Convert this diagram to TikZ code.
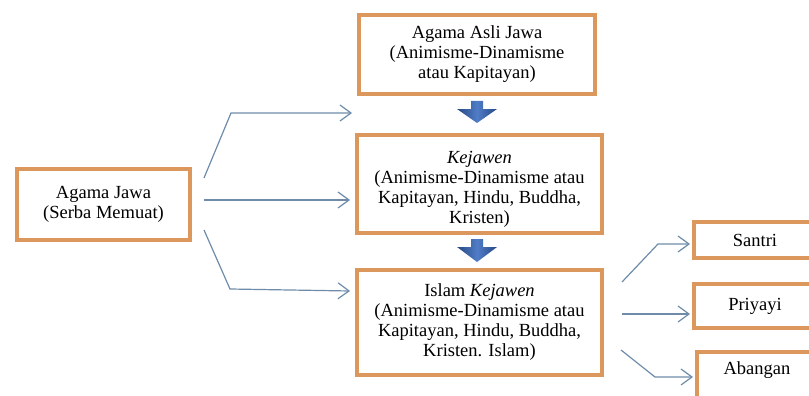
\documentclass[tikz,border=0pt]{standalone}
\usepackage{fontspec}
\setmainfont{Liberation Serif}
\usetikzlibrary{arrows.meta,calc}
\definecolor{boxc}{RGB}{220,152,92}
\definecolor{connc}{RGB}{110,140,170}
\definecolor{bdark}{RGB}{38,72,130}
\definecolor{blight}{RGB}{80,125,200}
\begin{document}
\begin{tikzpicture}[x=1pt,y=-1pt,
 box/.style={draw=boxc,line width=4pt,fill=white,inner sep=0pt,font=\fontsize{18.5}{20}\selectfont,align=center},
 lbl/.style={font=\fontsize{18.5}{20}\selectfont,align=center,inner sep=0pt},
 conn/.style={draw=connc,line width=1.2pt,-{Straight Barb[length=11pt,width=16pt,line width=1.2pt]}},
 blk/.style={left color=bdark,right color=bdark,middle color=blight}]
\useasboundingbox (0,0) rectangle (809,396);
\clip (0,0) rectangle (809,396);

\node[box,minimum width=173pt,minimum height=71pt] (jawa) at (103.5,204.5) {Agama Jawa\\(Serba Memuat)};
\node[box,minimum width=236pt,minimum height=79pt] (asli) at (477,54.5) {Agama Asli Jawa\\(Animisme-Dinamisme\\atau Kapitayan)};
\node[box,minimum width=245pt,minimum height=98pt] (kej) at (479.5,184) {};
\node[lbl] (kejt) at (479.5,189) {\textit{Kejawen}\\(Animisme-Dinamisme atau\\Kapitayan, Hindu, Buddha,\\Kristen)};
\node[box,minimum width=245pt,minimum height=105pt] (islam) at (479.5,322.5) {Islam \textit{Kejawen}\\(Animisme-Dinamisme atau\\Kapitayan, Hindu, Buddha,\\Kristen. Islam)};
\node[box,minimum width=122pt,minimum height=36pt] (santri) at (755,240) {Santri};
\node[box,minimum width=122pt,minimum height=44pt] (priyayi) at (755,306) {Priyayi};
\node[box,minimum width=122pt,minimum height=50pt] (aban) at (758,377) {};
\node[lbl] (abant) at (757,370) {Abangan};

\coordinate (b1) at (231,113);
\coordinate (b2) at (230,289);
\coordinate (b3) at (658,244);
\coordinate (b4) at (655,377);

\draw[conn] ([shift={(12,-26.5)}]jawa.east) -- (b1) -- ([shift={(-5,17)}]asli.south west);
\draw[conn] ([shift={(12,-4.5)}]jawa.east) -- ([shift={(-5,16)}]kej.west);
\draw[conn] ([shift={(12,25.5)}]jawa.east) -- (b2) -- ([shift={(-5,-31.5)}]islam.west);

\draw[conn] ([shift={(18,-40.5)}]islam.east) -- (b3) -- ([shift={(-2,4)}]santri.west);
\draw[conn] ([shift={(18,-8.5)}]islam.east) -- ([shift={(-2,8)}]priyayi.west);
\draw[conn] ([shift={(17,27.5)}]islam.east) -- (b4) -- ([shift={(-2,0)}]aban.west);

\path[blk] ([shift={(-6,5)}]asli.south) -- ++(12,0) -- ++(0,8) -- ++(14,0) -- ++(-20,14) -- ++(-20,-14) -- ++(14,0) -- cycle;
\path[blk] ([shift={(-8.5,4)}]kej.south) -- ++(12,0) -- ++(0,8) -- ++(14,0) -- ++(-20,15) -- ++(-20,-15) -- ++(14,0) -- cycle;
\end{tikzpicture}
\end{document}
